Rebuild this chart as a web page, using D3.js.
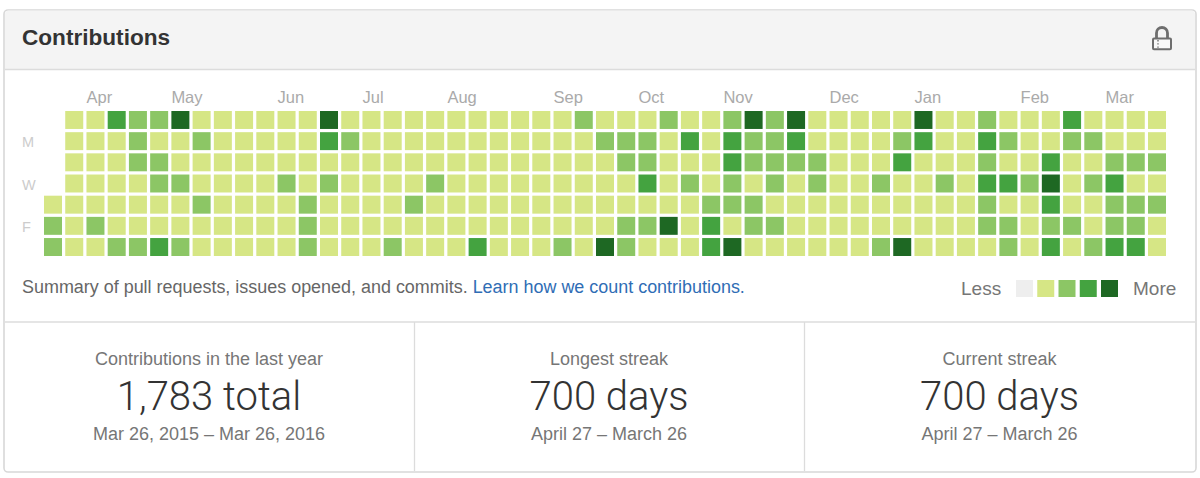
<!DOCTYPE html>
<html>
<head>
<meta charset="utf-8">
<script src="https://cdn.jsdelivr.net/npm/d3@7"></script>
<style>
  html, body { margin: 0; padding: 0; background: #fff; }
  svg { display: block; }
  text { font-family: "Liberation Sans", Arial, sans-serif; }
  .light { font-family: Roboto, "Liberation Sans", sans-serif; font-weight: 300; }
</style>
</head>
<body>
<svg width="1200" height="478"></svg>
<script>
// contribution level per weekday, one entry per week (null = no cell)
const sun = [null,1,1,3,2,2,4,1,1,1, 1,1,1,4,1,1,1,1,1,1, 1,1,1,1,1,2,1,1,1,2, 1,1,2,4,2,4,1,1,1,1, 1,4,1,1,2,1,1,1,3,1, 1,1,1];
const mon = [null,1,1,1,2,1,1,2,1,1, 1,1,1,3,2,1,1,1,1,1, 1,1,1,1,1,1,2,2,2,1, 3,1,3,2,2,3,1,1,1,1, 2,3,1,1,3,2,1,1,2,2, 1,1,1];
const tue = [null,1,1,1,2,2,1,1,1,1, 1,1,1,1,1,1,1,1,1,1, 1,1,1,1,1,1,1,2,2,1, 1,1,3,2,2,2,2,1,1,1, 3,1,1,1,2,1,1,3,1,1, 2,2,2];
const wed = [null,1,1,1,1,2,2,1,1,1, 1,2,1,2,1,1,1,1,2,1, 1,1,1,1,1,1,1,1,3,1, 2,1,2,1,2,1,2,1,1,2, 1,1,2,1,3,3,2,4,1,2, 3,1,1];
const thu = [1,1,1,1,1,1,1,2,1,1, 1,1,2,1,1,1,1,2,1,1, 1,1,1,1,1,1,1,1,1,1, 1,2,2,2,1,1,1,1,1,1, 1,1,1,1,2,1,1,3,1,1, 2,2,2];
const fri = [2,1,2,1,1,1,1,1,1,1, 1,1,2,1,1,1,1,1,1,1, 1,1,1,1,1,1,1,2,2,4, 1,3,1,2,2,1,1,1,1,1, 1,1,1,1,2,2,1,2,2,1, 2,2,1];
const sat = [2,1,1,2,2,3,2,1,1,1, 1,1,2,1,1,1,2,1,1,1, 3,1,1,1,2,1,4,2,1,1, 1,3,4,1,1,1,1,1,1,2, 4,1,1,1,1,2,1,3,1,2, 3,3,1];
const days = [sun, mon, tue, wed, thu, fri, sat];

const months = ["Apr","May","Jun","Jul","Aug","Sep","Oct","Nov","Dec","Jan","Feb","Mar"];
const monthWeeks = [2,6,11,15,19,24,28,32,37,41,46,50];
const dayLabels = [[1,"M"],[3,"W"],[5,"F"]];
const levels = [0,1,2,3,4];
const levelColors = ["#eeeeee","#d6e685","#8cc665","#44a340","#1e6823"];
const statTitles = ["Contributions in the last year","Longest streak","Current streak"];
const statValues = ["1,783 total","700 days","700 days"];
const statRanges = ["Mar 26, 2015 – Mar 26, 2016","April 27 – March 26","April 27 – March 26"];

const svg = d3.select("svg");

// card
svg.append("rect").attr("x",4).attr("y",10).attr("width",1192).attr("height",462)
  .attr("rx",4).attr("fill","#fff").attr("stroke","#d8d8d8").attr("stroke-width",1.6);
svg.append("path").attr("d","M5,69 V14.5 a4,4 0 0 1 4,-4 H1191 a4,4 0 0 1 4,4 V69 Z").attr("fill","#f4f4f4");
svg.append("line").attr("x1",5).attr("x2",1195).attr("y1",69.5).attr("y2",69.5).attr("stroke","#dcdcdc").attr("stroke-width",1.5);
svg.append("line").attr("x1",5).attr("x2",1195).attr("y1",322).attr("y2",322).attr("stroke","#dcdcdc").attr("stroke-width",1.5);
[414.5,804.5].forEach(x => svg.append("line").attr("x1",x).attr("x2",x).attr("y1",322).attr("y2",471).attr("stroke","#dcdcdc").attr("stroke-width",1.3));

svg.append("text").attr("x",22).attr("y",45).attr("font-size",22.6).attr("font-weight",700).attr("fill","#333").text("Contributions");

// lock
const lock = svg.append("g").attr("transform","translate(1152,26)");
lock.append("path").attr("d","M4.5,12 V7 a5.5,5.5 0 0 1 11,0 V12").attr("fill","none").attr("stroke","#6e6e6e").attr("stroke-width",2.8);
lock.append("rect").attr("x",1).attr("y",12.5).attr("width",18).attr("height",10.8).attr("rx",1).attr("fill","#f8f8f8").attr("stroke","#6e6e6e").attr("stroke-width",2);
lock.append("path").attr("d","M6,14 V22").attr("stroke","#6e6e6e").attr("stroke-width",1.4).attr("stroke-dasharray","1.4 1.8");

// grid
const x = d3.scaleBand().domain(d3.range(53)).range([44,1166]).paddingInner(0.152);
const y = d3.scaleBand().domain(d3.range(7)).range([111,256]).paddingInner(0.152);
const color = d3.scaleOrdinal().domain(levels).range(levelColors);

const cells = days.flatMap((row, r) => row.map((v, w) => ({r, w, v}))).filter(d => d.v !== null);
svg.append("g").selectAll("rect").data(cells).join("rect")
  .attr("x", d => x(d.w)).attr("y", d => y(d.r))
  .attr("width", x.bandwidth()).attr("height", y.bandwidth())
  .attr("fill", d => color(d.v));

svg.append("g").selectAll("text").data(months).join("text")
  .attr("x", (d,i) => x(monthWeeks[i])).attr("y",103)
  .attr("font-size",16.5).attr("fill","#aaa").text(d => d);

svg.append("g").selectAll("text").data(dayLabels).join("text")
  .attr("x",22).attr("y", d => y(d[0]) + 15)
  .attr("font-size",14.5).attr("fill","#ccc").text(d => d[1]);

// summary line
const note = svg.append("text").attr("x",22).attr("y",293).attr("font-size",17.95).attr("fill","#666");
note.append("tspan").text("Summary of pull requests, issues opened, and commits. ");
note.append("tspan").attr("fill","#2f6db5").text("Learn how we count contributions.");

// legend
const legendX = d3.scaleBand().domain(levels).range([1016,1118]).paddingInner(0.2);
svg.append("g").selectAll("rect").data(levels).join("rect")
  .attr("x", d => legendX(d)).attr("y",280)
  .attr("width", legendX.bandwidth()).attr("height",17)
  .attr("fill", d => color(d));
svg.append("text").attr("x",961).attr("y",295).attr("font-size",19).attr("fill","#767676").text("Less");
svg.append("text").attr("x",1133).attr("y",295).attr("font-size",19).attr("fill","#767676").text("More");

// stats, centred in their boxes (the boxes are not quite equal)
const statEdges = [4,414,804,1195];
const stats = svg.append("g").selectAll("g").data(statTitles).join("g")
  .attr("transform", (d,i) => `translate(${(statEdges[i] + statEdges[i+1]) / 2},0)`).attr("text-anchor","middle");
stats.append("text").attr("y",365).attr("font-size",18).attr("fill","#767676").text(d => d);
stats.append("text").attr("class","light").attr("y",410).attr("font-size",40).attr("fill","#333").text((d,i) => statValues[i]);
stats.append("text").attr("y",440).attr("font-size",18).attr("fill","#767676").text((d,i) => statRanges[i]);
</script>
</body>
</html>
